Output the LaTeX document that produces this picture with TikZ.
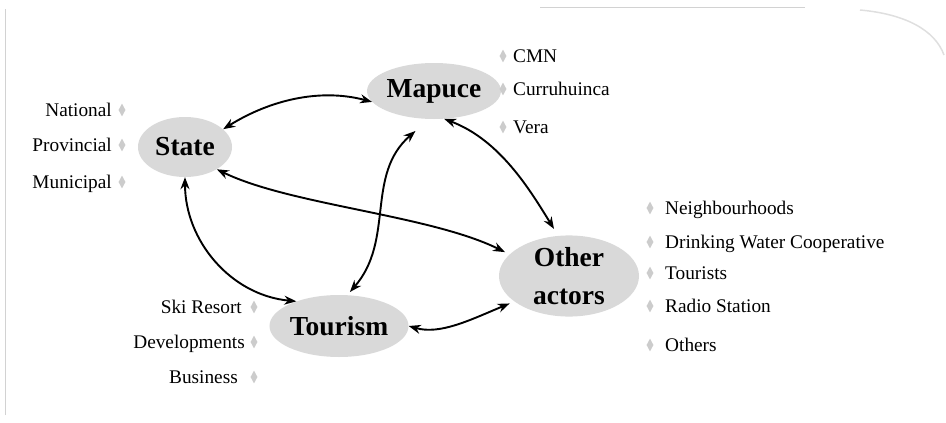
\documentclass[tikz,border=0pt]{standalone}
\usepackage{fontspec}
\setmainfont{Liberation Serif}
\usetikzlibrary{shapes.geometric,arrows.meta}

\begin{document}
\begin{tikzpicture}[x=1pt,y=-1pt,
    actor/.style={ellipse,fill=gray!30,inner sep=0pt,align=center,
        font=\fontsize{27.5}{38}\selectfont\bfseries},
    member/.style={inner sep=0pt,text height=12.5pt,text depth=0pt,
        font=\fontsize{19.3}{21}\selectfont},
    tick/.style={diamond,fill=gray!40,inner sep=0pt,minimum width=7pt,minimum height=13pt},
    link/.style={{Stealth[length=12pt,width=9pt]}-{Stealth[length=12pt,width=9pt]},line width=1.9pt}]
    \useasboundingbox (0,0) rectangle (946,423);
    % frame
    \draw[gray!35,line width=0.8pt] (5,415) -- (5,9);
    \draw[gray!35,line width=0.8pt] (540,7) -- (805,7);
    \draw[gray!25,line width=1.5pt] (860,10) .. controls (905,14) and (935,30) .. (944,55);

    % actors
    \node[actor,minimum width=94pt,minimum height=60pt] (state) at (185,147) {State};
    \node[actor,minimum width=122pt,minimum height=56pt] (mapuce) at (434,91) {Mapuce};
    \node[actor,minimum width=114pt,minimum height=62pt] (tourism) at (339,326) {Tourism};
    \node[actor,minimum width=140pt,minimum height=68pt] (other) at (569,276) {Other\\actors};

    % members
    \foreach \lbl/\ypos [count=\i] in {National/110,Provincial/145,Municipal/182} {
        \node[member,anchor=east] (state-m\i) at (112,\ypos) {\lbl};
        \node[tick] (state-t\i) at (122,\ypos) {};
    }
    \foreach \lbl/\ypos [count=\i] in {CMN/56,Curruhuinca/89,Vera/127} {
        \node[tick] (mapuce-t\i) at (503,\ypos) {};
        \node[member,anchor=west] (mapuce-m\i) at (513,\ypos) {\lbl};
    }
    \foreach \lbl/\xpos/\ypos [count=\i] in {Ski Resort/242/307,Developments/245/342,Business/238/377} {
        \node[member,anchor=east] (tourism-m\i) at (\xpos,\ypos) {\lbl};
        \node[tick] (tourism-t\i) at (254,\ypos) {};
    }
    \foreach \lbl/\ypos [count=\i] in {Neighbourhoods/208,Drinking Water Cooperative/242,
        Tourists/273,Radio Station/306,Others/345} {
        \node[tick] (other-t\i) at (650,\ypos) {};
        \node[member,anchor=west] (other-m\i) at (665,\ypos) {\lbl};
    }

    % relations
    \draw[link] (state.25) .. controls (270,100) and (320,88) .. (mapuce.190);
    \draw[link] (state.south) .. controls (185,240) and (230,295) .. (tourism.150);
    \draw[link,shorten >=5pt] (state.325) .. controls (290,205) and (430,215) .. (other.160);
    \draw[link,shorten <=4pt,shorten >=18pt] (tourism.75) .. controls (395,240) and (365,175) .. (mapuce.260);
    \draw[link,shorten >=8pt] (mapuce.290) .. controls (500,140) and (530,190) .. (other.105);
    \draw[link,shorten >=5pt] (tourism.east) .. controls (440,335) and (470,320) .. (other.205);
\end{tikzpicture}
\end{document}
